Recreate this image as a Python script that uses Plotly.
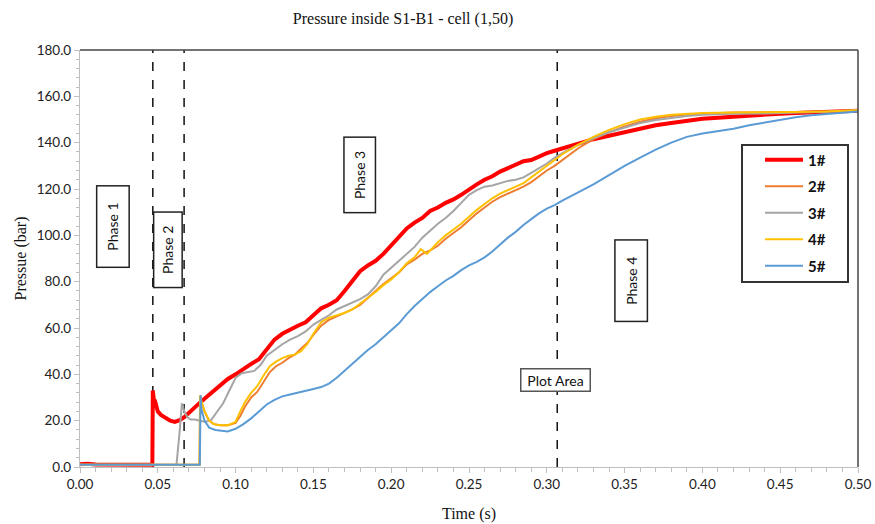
import plotly.graph_objects as go

# ---------------- data ----------------
t1 = [0.000, 0.005, 0.010, 0.020, 0.030, 0.040, 0.0465, 0.0468, 0.0471, 0.0474, 0.0477, 0.0480,
      0.049, 0.050, 0.052, 0.055, 0.058, 0.061, 0.064, 0.067, 0.070, 0.075, 0.080, 0.085, 0.090,
      0.095, 0.100, 0.105, 0.110, 0.115, 0.120, 0.125, 0.130, 0.135, 0.140, 0.145, 0.150, 0.155,
      0.160, 0.165, 0.170, 0.175, 0.180, 0.185, 0.190, 0.195, 0.200, 0.205, 0.210, 0.215, 0.220,
      0.225, 0.230, 0.235, 0.240, 0.245, 0.250, 0.255, 0.260, 0.265, 0.270, 0.275, 0.280, 0.285,
      0.290, 0.295, 0.300, 0.305, 0.310, 0.320, 0.330, 0.340, 0.350, 0.360, 0.370, 0.380, 0.390,
      0.400, 0.410, 0.420, 0.430, 0.440, 0.450, 0.460, 0.470, 0.480, 0.490, 0.500]
p1 = [1.2, 1.4, 1.1, 1.0, 1.1, 1.0, 1.0, 33.0, 29.0, 31.5, 27.5, 29.0,
      25.5, 24.0, 22.5, 21.0, 20.0, 19.5, 20.2, 21.5, 23.5, 26.5, 29.5, 32.5, 35.5,
      38.0, 40.0, 42.5, 44.5, 46.5, 50.5, 55.0, 57.5, 59.5, 61.0, 62.5, 65.5, 68.5,
      70.0, 72.0, 76.0, 80.0, 84.5, 87.0, 89.0, 92.0, 95.5, 99.5, 103.0, 105.5, 107.5,
      110.5, 112.0, 114.0, 115.5, 117.5, 119.5, 122.0, 124.0, 125.5, 127.5, 129.0, 130.5, 132.0,
      132.5, 134.0, 135.5, 136.5, 137.5, 139.5, 141.5, 143.0, 144.5, 146.0, 147.5, 148.5, 149.5,
      150.3, 150.8, 151.3, 151.8, 152.2, 152.5, 152.8, 153.0, 153.3, 153.6, 153.8]

t2 = [0.000, 0.020, 0.040, 0.060, 0.0768, 0.0772, 0.078, 0.080, 0.083, 0.086, 0.090, 0.095,
      0.100, 0.103, 0.106, 0.110, 0.114, 0.118, 0.122, 0.126, 0.130, 0.134, 0.138, 0.142, 0.146,
      0.150, 0.155, 0.160, 0.165, 0.170, 0.175, 0.180, 0.185, 0.190, 0.195, 0.200, 0.205, 0.210,
      0.215, 0.220, 0.225, 0.230, 0.235, 0.240, 0.245, 0.250, 0.255, 0.260, 0.265, 0.270, 0.275,
      0.280, 0.285, 0.290, 0.295, 0.300, 0.305, 0.310, 0.320, 0.330, 0.340, 0.350, 0.360, 0.370,
      0.380, 0.390, 0.400, 0.420, 0.440, 0.460, 0.480, 0.500]
p2 = [1.0, 1.0, 1.0, 1.0, 1.0, 30.0, 28.0, 24.0, 20.0, 18.5, 18.0, 18.0,
      19.0, 22.0, 26.0, 30.0, 32.5, 37.0, 41.0, 43.5, 45.0, 47.0, 48.5, 51.0, 53.5,
      57.0, 61.0, 63.5, 65.0, 66.5, 68.0, 70.0, 73.0, 76.0, 79.0, 81.5, 84.0, 87.5,
      89.5, 92.0, 93.5, 95.5, 98.5, 101.0, 103.5, 106.5, 109.5, 112.0, 114.5, 116.5, 118.0,
      119.5, 121.0, 123.0, 125.5, 128.0, 130.0, 132.5, 137.5, 141.5, 144.5, 147.0, 149.0, 150.5,
      151.5, 152.0, 152.5, 153.0, 153.0, 153.2, 153.5, 154.0]

t3 = [0.000, 0.020, 0.040, 0.0620, 0.0640, 0.0655, 0.067, 0.069, 0.071, 0.074, 0.077, 0.080,
      0.084, 0.088, 0.092, 0.096, 0.100, 0.104, 0.108, 0.112, 0.116, 0.120, 0.125, 0.130, 0.135,
      0.140, 0.145, 0.150, 0.155, 0.160, 0.165, 0.170, 0.175, 0.180, 0.185, 0.190, 0.195, 0.200,
      0.205, 0.210, 0.215, 0.220, 0.225, 0.230, 0.235, 0.240, 0.245, 0.250, 0.255, 0.260, 0.265,
      0.270, 0.275, 0.280, 0.285, 0.290, 0.295, 0.300, 0.305, 0.310, 0.320, 0.330, 0.340, 0.350,
      0.360, 0.370, 0.380, 0.390, 0.400, 0.420, 0.440, 0.460, 0.480, 0.500]
p3 = [1.0, 1.0, 1.0, 1.0, 15.0, 27.5, 24.0, 21.5, 20.5, 20.5, 20.0, 19.5,
      20.0, 23.5, 27.5, 33.0, 38.5, 40.5, 41.0, 41.5, 44.0, 48.0, 50.5, 53.0, 55.0,
      56.5, 58.5, 61.5, 63.5, 65.5, 68.0, 69.5, 71.0, 72.5, 74.5, 78.0, 83.0, 86.0,
      89.0, 92.0, 95.0, 99.0, 102.0, 105.0, 107.5, 110.5, 114.0, 117.5, 119.5, 121.0, 121.5,
      122.5, 123.5, 124.0, 125.0, 127.0, 129.0, 131.0, 133.5, 135.5, 139.0, 142.0, 144.5, 146.5,
      148.5, 149.8, 150.8, 151.5, 152.0, 152.5, 152.6, 152.8, 153.3, 154.0]

t4 = [0.000, 0.020, 0.040, 0.060, 0.0768, 0.0772, 0.078, 0.080, 0.083, 0.086, 0.090, 0.095,
      0.100, 0.103, 0.106, 0.110, 0.114, 0.118, 0.122, 0.126, 0.130, 0.134, 0.138, 0.142, 0.146,
      0.150, 0.155, 0.160, 0.165, 0.170, 0.175, 0.180, 0.185, 0.190, 0.195, 0.200, 0.205, 0.210,
      0.215, 0.219, 0.223, 0.227, 0.230, 0.235, 0.240, 0.245, 0.250, 0.255, 0.260, 0.265, 0.270,
      0.275, 0.280, 0.285, 0.290, 0.295, 0.300, 0.305, 0.310, 0.320, 0.330, 0.340, 0.350, 0.360,
      0.370, 0.380, 0.390, 0.400, 0.420, 0.440, 0.460, 0.480, 0.500]
p4 = [1.0, 1.0, 1.0, 1.0, 1.0, 31.0, 28.5, 24.0, 20.0, 18.5, 18.0, 18.0,
      19.5, 24.0, 28.0, 32.0, 35.0, 39.5, 43.5, 45.5, 47.0, 48.0, 48.5, 50.0, 53.0,
      57.5, 62.5, 64.5, 65.5, 66.5, 68.0, 70.5, 73.0, 75.5, 78.5, 81.0, 84.0, 88.0,
      90.5, 94.0, 92.0, 95.0, 97.0, 100.0, 102.5, 105.0, 108.0, 111.0, 113.5, 116.0, 118.0,
      119.5, 121.0, 122.5, 125.0, 127.5, 130.0, 132.5, 135.0, 139.0, 142.5, 145.5, 148.0, 150.0,
      151.2, 152.0, 152.5, 152.8, 153.0, 153.0, 153.2, 153.5, 154.0]

t5 = [0.000, 0.020, 0.040, 0.060, 0.0770, 0.0775, 0.078, 0.080, 0.083, 0.087, 0.091, 0.095,
      0.100, 0.105, 0.110, 0.115, 0.120, 0.125, 0.130, 0.135, 0.140, 0.145, 0.150, 0.155, 0.160,
      0.165, 0.170, 0.175, 0.180, 0.185, 0.190, 0.195, 0.200, 0.205, 0.210, 0.215, 0.220, 0.225,
      0.230, 0.235, 0.240, 0.245, 0.250, 0.255, 0.260, 0.265, 0.270, 0.275, 0.280, 0.285, 0.290,
      0.295, 0.300, 0.305, 0.310, 0.320, 0.330, 0.340, 0.350, 0.360, 0.370, 0.380, 0.390, 0.400,
      0.410, 0.420, 0.430, 0.440, 0.450, 0.460, 0.470, 0.480, 0.490, 0.500]
p5 = [1.0, 1.0, 1.0, 1.0, 1.0, 31.0, 25.0, 20.0, 17.0, 16.0, 15.5, 15.3,
      16.5, 18.5, 21.0, 24.0, 27.0, 29.0, 30.5, 31.3, 32.2, 33.0, 33.7, 34.5, 36.0,
      38.5, 41.5, 44.5, 47.5, 50.5, 53.0, 56.0, 59.0, 62.0, 66.0, 69.5, 72.5, 75.5,
      78.0, 80.5, 82.5, 85.0, 87.0, 88.5, 90.5, 93.0, 96.0, 99.0, 101.5, 104.5, 107.0,
      109.5, 111.5, 113.0, 115.0, 118.5, 122.0, 126.0, 130.0, 133.5, 137.0, 140.0, 142.5, 144.0,
      145.0, 146.0, 147.5, 148.7, 150.0, 151.0, 151.8, 152.4, 153.0, 153.5]

series_names = ["1#", "2#", "3#", "4#", "5#"]
series_colors = ["#FF0000", "#ED7D31", "#A5A5A5", "#FFC000", "#5B9BD5"]
series_widths = [4, 2, 2, 2, 2]
series_t = [t1, t2, t3, t4, t5]
series_p = [p1, p2, p3, p4, p5]

phase_bounds = [0.0468, 0.0669, 0.3067]

x_ticks = [0.00, 0.05, 0.10, 0.15, 0.20, 0.25, 0.30, 0.35, 0.40, 0.45, 0.50]
y_ticks = [0, 20, 40, 60, 80, 100, 120, 140, 160, 180]

# ---------------- figure ----------------
fig = go.Figure()
for i, (name, col, w, tt, pp) in enumerate(zip(series_names, series_colors, series_widths, series_t, series_p)):
    fig.add_trace(go.Scatter(x=tt, y=pp, mode="lines", name=name, legendgroup=name,
                             line=dict(color=col, width=w)))

sans = "Lato, 'Liberation Sans', sans-serif"
tick_font = dict(family=sans, size=13.5, color="#222")
serif = "'Liberation Serif', 'Times New Roman', serif"

for b in phase_bounds:
    fig.add_vline(x=b, line=dict(color="#111", width=1.5, dash="dash"), layer="below")

# plot-area frame (top and right darker)
fig.add_shape(type="line", xref="paper", yref="paper", x0=0, x1=1, y0=1, y1=1,
              line=dict(color="#444", width=1.5))
fig.add_shape(type="line", xref="paper", yref="paper", x0=1, x1=1, y0=0, y1=1,
              line=dict(color="#444", width=1.5))
# legend frame (plot area px: left 80, width 778, bottom 467, height 417)
fig.add_shape(type="rect", xref="paper", yref="paper",
              x0=(742 - 80) / 778, x1=(848 - 80) / 778,
              y0=(467 - 282) / 417, y1=(467 - 145) / 417,
              line=dict(color="#333", width=2), fillcolor="white", layer="below")

box_font = dict(family=sans, size=14, color="#111")
phase_boxes = [("Phase 1", 0.0212, 104.0, 80, 31),
               ("Phase 2", 0.0563, 93.8, 74, 27),
               ("Phase 3", 0.1795, 126.0, 74, 30),
               ("Phase 4", 0.3539, 80.5, 80, 31)]
for txt, xx, yy, w, h in phase_boxes:
    fig.add_annotation(x=xx, y=yy, text=txt, showarrow=False, textangle=-90,
                       width=w, height=h, bordercolor="#222", borderwidth=1.5, borderpad=0,
                       bgcolor="white", font=box_font)
fig.add_annotation(x=0.3055, y=37.5, text="Plot Area", showarrow=False,
                   width=68, height=21, bordercolor="#555", borderwidth=1.5, borderpad=0,
                   bgcolor="white", font=box_font)

fig.update_layout(
    width=875, height=524,
    margin=dict(l=80, r=17, t=50, b=57, autoexpand=False),
    paper_bgcolor="white", plot_bgcolor="white",
    title=dict(text="Pressure inside S1-B1 - cell (1,50)", x=403 / 875, xanchor="center",
               y=1 - 18 / 524, yanchor="middle", font=dict(family=serif, size=16, color="#111")),
    xaxis=dict(range=[0, 0.5], tickvals=x_ticks, tickformat=".2f", showgrid=False, zeroline=False,
               automargin=False,
               showline=True, linecolor="#BFBFBF", linewidth=1.2, ticks="outside", ticklen=5,
               tickcolor="#BFBFBF", tickfont=tick_font,
               minor=dict(dtick=0.01, ticks="outside", ticklen=4, tickcolor="#BFBFBF"),
               title=dict(text="Time (s)", font=dict(family=serif, size=16, color="#111"), standoff=16)),
    yaxis=dict(range=[0, 180], tickvals=y_ticks, tickformat=".1f", showgrid=False, zeroline=False,
               automargin=False,
               showline=True, linecolor="#BFBFBF", linewidth=1.2, ticks="outside", ticklen=5,
               tickcolor="#BFBFBF", tickfont=tick_font,
               minor=dict(dtick=4, ticks="outside", ticklen=3, tickcolor="#BFBFBF"),
               title=dict(text="Pressue (bar)", font=dict(family=serif, size=16, color="#111"), standoff=6)),
    legend=dict(x=(760 - 80) / 778, y=(467 - 213) / 417, xanchor="left", yanchor="middle",
                bgcolor="rgba(0,0,0,0)", borderwidth=0, tracegroupgap=4,
                font=dict(family=sans, size=15, color="#111", weight="bold"),
                itemwidth=38),
)

# remove the browser's default 8px page margin so the 875x524 figure fills the window exactly
fig.write_html("out.html", config={"displayModeBar": False},
               post_script="document.body.style.margin='0px';document.body.style.overflow='hidden';")
